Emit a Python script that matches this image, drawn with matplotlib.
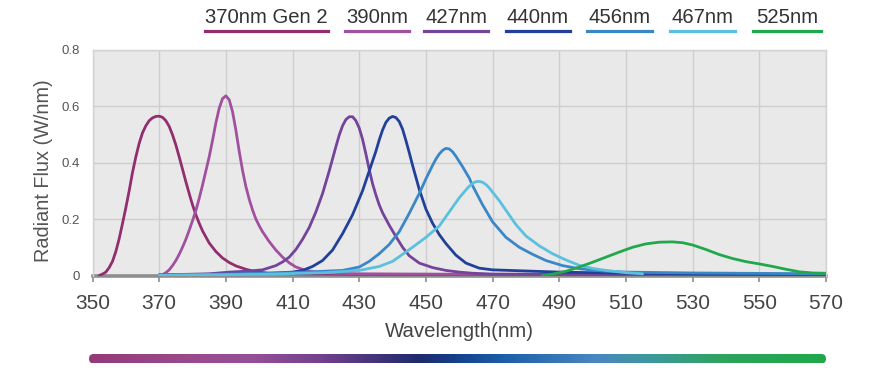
import numpy as np
import matplotlib
matplotlib.use("Agg")
import matplotlib.pyplot as plt
from matplotlib.colors import LinearSegmentedColormap
from matplotlib.patches import FancyBboxPatch
from matplotlib.lines import Line2D

plt.rcParams['font.family'] = ['Liberation Sans', 'DejaVu Sans']

# spectra: (wavelength nm, radiant flux W/nm)
wl_370 = [352, 353, 354, 355, 356, 357, 358, 359, 360, 361, 362, 363, 364, 365, 366, 367, 368,
          369, 370, 371, 372, 373, 374, 375, 376, 377, 378, 379, 380, 381, 382, 383, 385, 387,
          389, 391, 393, 396, 399, 403, 410, 430, 470, 570]
flux_370 = [0.0, 0.005, 0.012, 0.028, 0.05, 0.085, 0.13, 0.184, 0.24, 0.30, 0.365, 0.42, 0.468,
            0.505, 0.53, 0.548, 0.558, 0.563, 0.564, 0.56, 0.548, 0.528, 0.498, 0.462, 0.42,
            0.376, 0.332, 0.29, 0.25, 0.215, 0.185, 0.158, 0.115, 0.085, 0.062, 0.046, 0.034,
            0.022, 0.013, 0.008, 0.006, 0.004, 0.003, 0.002]

wl_390 = [371, 372, 373, 374, 375, 376, 377, 378, 379, 380, 381, 382, 383, 384, 385, 386, 387,
          388, 389, 390, 391, 392, 393, 394, 395, 396, 397, 398, 399, 400, 401, 403, 405, 407,
          409, 411, 414, 417, 422, 430, 470, 570]
flux_390 = [0.003, 0.01, 0.02, 0.035, 0.053, 0.075, 0.10, 0.128, 0.16, 0.194, 0.23, 0.273, 0.32,
            0.37, 0.42, 0.478, 0.54, 0.592, 0.626, 0.636, 0.622, 0.58, 0.515, 0.44, 0.372, 0.315,
            0.27, 0.232, 0.20, 0.176, 0.155, 0.12, 0.09, 0.065, 0.045, 0.03, 0.018, 0.012,
            0.008, 0.006, 0.004, 0.003]

wl_427 = [370, 385, 391, 396, 401, 405, 407, 409, 411, 413, 415, 417, 419, 421, 423, 424, 425,
          426, 427, 428, 429, 430, 431, 432, 433, 434, 435, 436, 437, 439, 441, 443, 445, 448,
          452, 456, 460, 464, 470, 500, 570]
flux_427 = [0.002, 0.006, 0.012, 0.015, 0.02, 0.035, 0.048, 0.065, 0.092, 0.128, 0.17, 0.225,
            0.29, 0.37, 0.456, 0.497, 0.53, 0.552, 0.562, 0.562, 0.548, 0.522, 0.482, 0.43,
            0.375, 0.325, 0.285, 0.25, 0.222, 0.178, 0.138, 0.1, 0.07, 0.044, 0.028, 0.018,
            0.012, 0.008, 0.005, 0.004, 0.003]

wl_440 = [370, 400, 410, 413, 416, 419, 422, 425, 428, 431, 433, 435, 436, 437, 438, 439, 440,
          441, 442, 443, 444, 445, 446, 448, 450, 452, 454, 456, 459, 462, 466, 470, 480, 490,
          510, 530, 570]
flux_440 = [0.002, 0.006, 0.012, 0.018, 0.032, 0.053, 0.09, 0.148, 0.215, 0.30, 0.37, 0.44, 0.48,
            0.515, 0.542, 0.557, 0.563, 0.559, 0.545, 0.518, 0.478, 0.435, 0.39, 0.305, 0.235,
            0.185, 0.145, 0.113, 0.072, 0.044, 0.026, 0.02, 0.016, 0.012, 0.008, 0.006, 0.004]

wl_456 = [370, 390, 410, 425, 430, 433, 436, 439, 442, 445, 448, 450, 452, 453, 454, 455, 456,
          457, 458, 459, 461, 463, 464, 467, 470, 474, 478, 482, 486, 491, 496, 503, 510, 530,
          570]
flux_456 = [0.002, 0.005, 0.01, 0.018, 0.03, 0.05, 0.077, 0.11, 0.155, 0.22, 0.29, 0.342, 0.39,
            0.412, 0.43, 0.443, 0.45, 0.448, 0.438, 0.422, 0.385, 0.345, 0.318, 0.25, 0.19,
            0.135, 0.10, 0.075, 0.053, 0.035, 0.024, 0.016, 0.012, 0.009, 0.006]

wl_467 = [370, 400, 420, 430, 436, 440, 443, 446, 450, 454, 457, 460, 462, 463, 464, 465, 466,
          467, 468, 469, 470, 472, 474, 477, 480, 484, 488, 492, 496, 500, 504, 510, 515]
flux_467 = [0.001, 0.004, 0.01, 0.018, 0.032, 0.05, 0.075, 0.10, 0.135, 0.175, 0.225, 0.275,
            0.303, 0.316, 0.326, 0.332, 0.333, 0.33, 0.322, 0.31, 0.295, 0.265, 0.231, 0.18,
            0.14, 0.105, 0.077, 0.055, 0.036, 0.025, 0.018, 0.01, 0.006]

wl_525 = [485, 488, 492, 496, 500, 504, 508, 512, 516, 520, 524, 527, 530, 534, 538, 542, 546,
          550, 554, 558, 562, 566, 570]
flux_525 = [0.0, 0.005, 0.015, 0.03, 0.047, 0.065, 0.083, 0.10, 0.112, 0.118, 0.119, 0.116, 0.108,
            0.092, 0.074, 0.06, 0.049, 0.041, 0.032, 0.022, 0.013, 0.009, 0.008]

labels = ["370nm Gen 2", "390nm", "427nm", "440nm", "456nm", "467nm", "525nm"]
colors = ["#922d6f", "#a1509f", "#74439a", "#21409a", "#3a87c8", "#5bc0de", "#22a84c"]
series = [(wl_370, flux_370), (wl_390, flux_390), (wl_427, flux_427), (wl_440, flux_440),
          (wl_456, flux_456), (wl_467, flux_467), (wl_525, flux_525)]

x_ticks = list(range(350, 571, 20))
y_ticks = [0, 0.2, 0.4, 0.6, 0.8]
y_ticklabels = ["0", "0.2", "0.4", "0.6", "0.8"]

W, H = 880, 368
fig = plt.figure(figsize=(W / 100, H / 100), dpi=100)
ax = fig.add_axes([92.5 / W, (H - 275.5) / H, 733.5 / W, 226 / H])
ax.set_facecolor("#e9e9e9")

for (x, y), c in zip(series, colors):
    ax.plot(x, y, color=c, lw=2.0, solid_capstyle="round", solid_joinstyle="round", zorder=3)

ax.set_xlim(350, 570)
ax.set_ylim(0, 0.8)
ax.set_xticks(x_ticks)
ax.set_yticks(y_ticks)
ax.set_yticklabels(y_ticklabels)
ax.grid(True, color="#cfcfcf", lw=1.0, zorder=0)
ax.set_axisbelow(True)

ax.tick_params(axis="x", length=4.5, width=1.2, color="#8e8e8e", pad=8.5,
               labelsize=15, labelcolor="#444444")
ax.tick_params(axis="y", length=0, pad=9, labelsize=9.5, labelcolor="#555555")

for s in ["left", "top", "right"]:
    ax.spines[s].set_color("#d2d2d2")
    ax.spines[s].set_linewidth(1.0)
ax.spines["bottom"].set_color("#8e8e8e")
ax.spines["bottom"].set_linewidth(2.6)
ax.spines["bottom"].set_zorder(2)

ax.set_xlabel("Wavelength(nm)", fontsize=14.7, color="#444444", labelpad=7)
ax.set_ylabel("Radiant Flux (W/nm)", fontsize=14.3, color="#555555")
ax.yaxis.set_label_coords(-0.054, 0.462)

# legend: text with coloured underline
legend_spans = [(204.7, 327.6), (344.9, 408.8), (424.4, 488), (505.7, 570),
                (586.9, 651.7), (669.8, 735), (753, 820.5)]
for lab, c, (x0, x1) in zip(labels, colors, legend_spans):
    fig.text((x0 + x1) / 2 / W, 1 - 22.7 / H, lab, ha="center", va="baseline",
             fontsize=14.6, color="#333333")
    fig.lines.append(Line2D([x0 / W, x1 / W], [1 - 30.5 / H, 1 - 30.5 / H],
                            transform=fig.transFigure, color=c, lw=2.3))

# gradient bar at the bottom
bar_w, bar_h = 737.0, 9.5
cax = fig.add_axes([89 / W, (H - 363.5) / H, bar_w / W, bar_h / H])
cax.axis("off")
stops = [(0.0, "#943a78"), (0.13, "#9a4a8c"), (0.22, "#964f98"), (0.31, "#74418f"),
         (0.446, "#1e2a6c"), (0.497, "#15408a"), (0.564, "#1c60a8"), (0.69, "#4a88c0"),
         (0.768, "#3c9a98"), (0.86, "#2ea35e"), (1.0, "#1fa84a")]
cmap = LinearSegmentedColormap.from_list("spec", stops)
grad = np.linspace(0, 1, 512)[None, :]
im = cax.imshow(grad, cmap=cmap, aspect="auto", extent=[0, bar_w, 0, bar_h])
cax.set_xlim(0, bar_w)
cax.set_ylim(0, bar_h)
clip = FancyBboxPatch((0, 0), bar_w, bar_h, boxstyle="round,pad=0,rounding_size=4.7",
                      transform=cax.transData, facecolor="none", edgecolor="none")
cax.add_patch(clip)
im.set_clip_path(clip)

fig.savefig("out.png", dpi=100, facecolor="white")
